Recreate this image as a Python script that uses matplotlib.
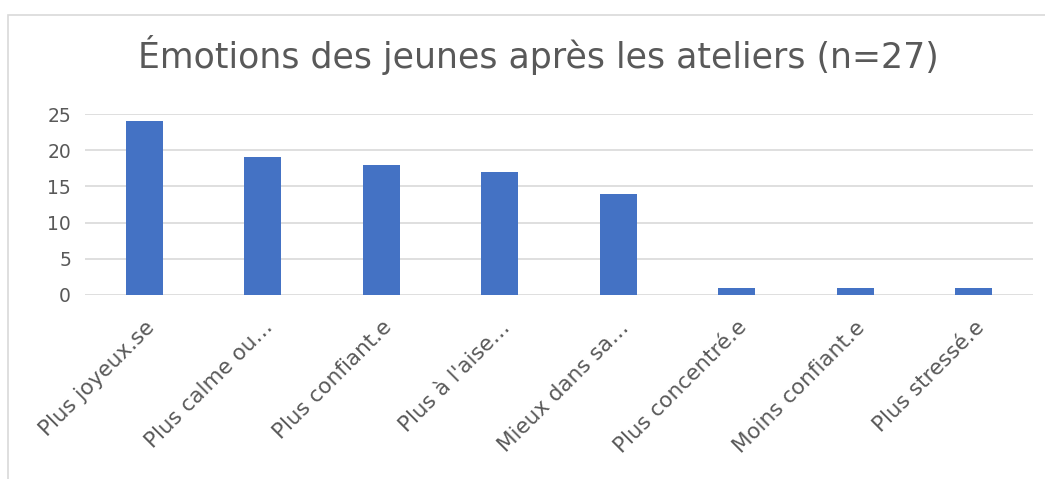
import numpy as np
import matplotlib.pyplot as plt
from matplotlib.patches import Rectangle

# categories and counts
categories = ['Plus joyeux.se', 'Plus calme ou…', 'Plus confiant.e', "Plus à l'aise…",
              'Mieux dans sa…', 'Plus concentré.e', 'Moins confiant.e', 'Plus stressé.e']
counts = [24, 19, 18, 17, 14, 1, 1, 1]
yticks = [0, 5, 10, 15, 20, 25]

plt.rcParams['font.family'] = ['DejaVu Sans']
txt = '#595959'
grid = '#d9d9d9'

W, H = 1045, 479
fig = plt.figure(figsize=(W/100, H/100), dpi=100)
ax = fig.add_axes([85/W, 1 - 295/H, (1033-85)/W, (295-114)/H])

# chart frame (only top/left visible in the reference)
fig.patches.append(Rectangle((8/W, -0.1), 1.2, 1 - 15/H + 0.1, transform=fig.transFigure,
                             fill=False, edgecolor=grid, linewidth=1.2))

x = np.arange(len(categories))
ax.bar(x, counts, width=0.31, color='#4472C4', zorder=3)
ax.set_xlim(-0.5, len(categories) - 0.5)
ax.set_ylim(0, 25)
ax.set_yticks(yticks)
ax.yaxis.grid(True, color=grid, linewidth=1.2, zorder=0)
for s in ax.spines.values():
    s.set_visible(False)
ax.tick_params(length=0, labelsize=13.5, colors=txt, pad=10)
ax.set_xticks(x)
ax.set_xticklabels(categories, rotation=45, ha='right', rotation_mode='anchor')
ax.tick_params(axis='x', labelsize=15.5, pad=16)

fig.text(538/W, 1 - 55/H, 'Émotions des jeunes après les ateliers (n=27)',
         ha='center', va='center', fontsize=25, color=txt)

fig.savefig('out.png', dpi=100)
